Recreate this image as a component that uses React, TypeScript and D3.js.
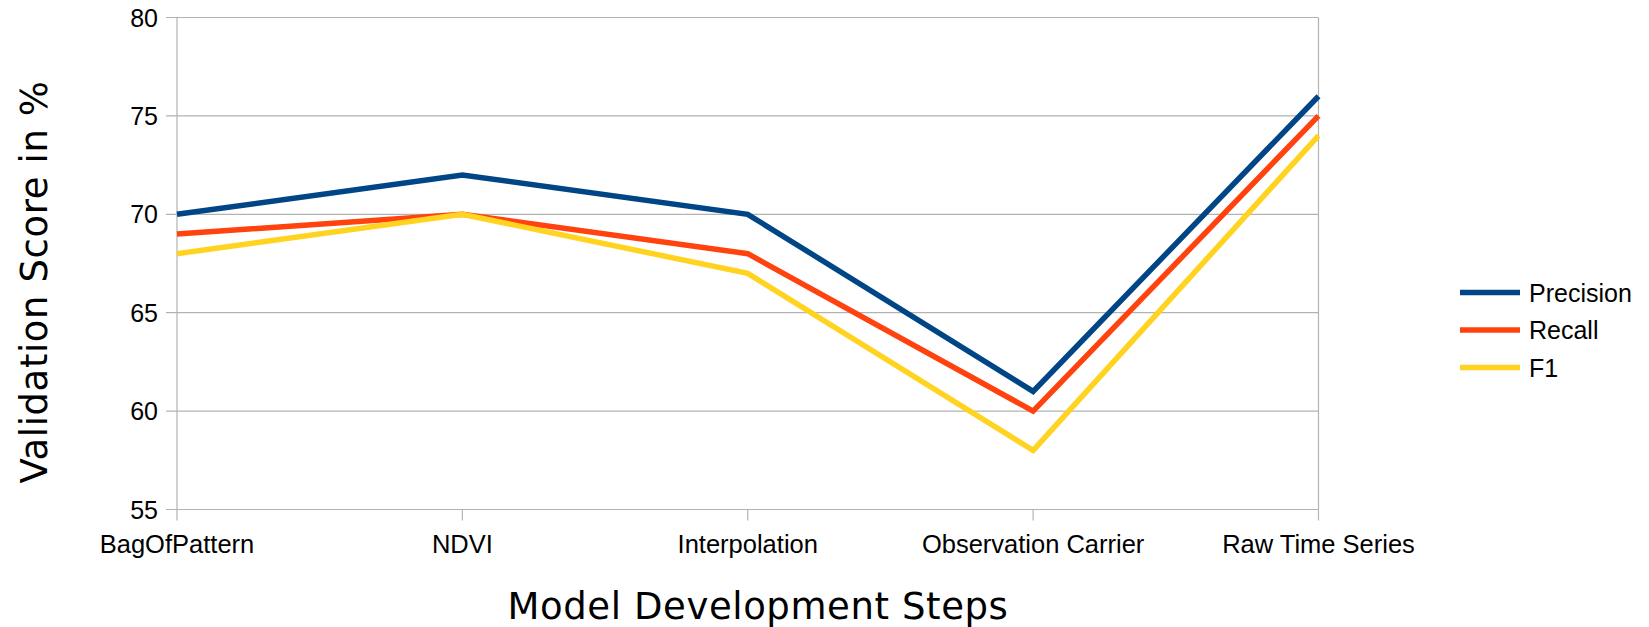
import React, { useEffect, useRef } from "react";
import * as d3 from "d3";

const categories = ["BagOfPattern", "NDVI", "Interpolation", "Observation Carrier", "Raw Time Series"];
const precision = [70, 72, 70, 61, 76];
const recall = [69, 70, 68, 60, 75];
const f1 = [68, 70, 67, 58, 74];
const yTicks = [55, 60, 65, 70, 75, 80];
const seriesNames = ["Precision", "Recall", "F1"];
const seriesColors = ["#004586", "#ff420e", "#ffd320"];

const W = 1649;
const H = 627;
const M = { left: 177, right: 1318.5, top: 17.5, bottom: 509.5 };

export default function App() {
  const ref = useRef<SVGSVGElement | null>(null);

  useEffect(() => {
    const svg = d3.select(ref.current);
    svg.selectAll("*").remove();

    const x = d3.scalePoint<string>().domain(categories).range([M.left, M.right]).padding(0);
    const y = d3.scaleLinear().domain([55, 80]).range([M.bottom, M.top]);

    const grid = "#b3b3b3";
    const tickFont = "'Liberation Sans', Arial, sans-serif";

    // horizontal gridlines + y ticks
    const gy = svg.append("g");
    yTicks.forEach((t) => {
      gy.append("line")
        .attr("x1", M.left - 11).attr("x2", M.right)
        .attr("y1", y(t)).attr("y2", y(t))
        .attr("stroke", grid).attr("stroke-width", 1.2);
      gy.append("text")
        .attr("x", M.left - 19).attr("y", y(t))
        .attr("dy", "0.36em")
        .attr("text-anchor", "end")
        .attr("font-family", tickFont).attr("font-size", 25)
        .attr("fill", "#000")
        .text(String(t));
    });

    // vertical axis lines (left and right)
    svg.append("line").attr("x1", M.left).attr("x2", M.left)
      .attr("y1", M.top).attr("y2", M.bottom)
      .attr("stroke", grid).attr("stroke-width", 1.2);
    svg.append("line").attr("x1", M.right).attr("x2", M.right)
      .attr("y1", M.top).attr("y2", M.bottom)
      .attr("stroke", grid).attr("stroke-width", 1.2);

    // x ticks and labels
    categories.forEach((c) => {
      const cx = x(c) as number;
      svg.append("line").attr("x1", cx).attr("x2", cx)
        .attr("y1", M.bottom).attr("y2", M.bottom + 11)
        .attr("stroke", grid).attr("stroke-width", 1.2);
      svg.append("text")
        .attr("x", cx).attr("y", 553)
        .attr("text-anchor", "middle")
        .attr("font-family", tickFont).attr("font-size", 25.5)
        .attr("fill", "#000")
        .text(c);
    });

    // lines
    const series = [precision, recall, f1];
    const line = d3.line<number>()
      .x((_, i) => x(categories[i]) as number)
      .y((d) => y(d));
    series.forEach((s, i) => {
      svg.append("path")
        .attr("d", line(s) as string)
        .attr("fill", "none")
        .attr("stroke", seriesColors[i])
        .attr("stroke-width", 5.5)
        .attr("stroke-linejoin", "miter");
    });

    // legend
    const legY = [292.5, 330, 367.5];
    seriesNames.forEach((n, i) => {
      svg.append("line")
        .attr("x1", 1460).attr("x2", 1520)
        .attr("y1", legY[i]).attr("y2", legY[i])
        .attr("stroke", seriesColors[i]).attr("stroke-width", 5.5);
      svg.append("text")
        .attr("x", 1529).attr("y", legY[i])
        .attr("dy", "0.36em")
        .attr("font-family", tickFont).attr("font-size", 25)
        .attr("fill", "#000")
        .text(n);
    });

    // axis titles
    const titleFont = "'DejaVu Sans', sans-serif";
    svg.append("text")
      .attr("x", 758).attr("y", 619)
      .attr("text-anchor", "middle")
      .attr("font-family", titleFont).attr("font-size", 37)
      .attr("letter-spacing", 0.6)
      .attr("fill", "#000")
      .text("Model Development Steps");
    svg.append("text")
      .attr("transform", `translate(46.5, 282) rotate(-90)`)
      .attr("text-anchor", "middle")
      .attr("font-family", titleFont).attr("font-size", 37)
      .attr("letter-spacing", 0.6)
      .attr("fill", "#000")
      .text("Validation Score in %");
  }, []);

  return (
    <svg
      ref={ref}
      width={W}
      height={H}
      style={{ position: "absolute", left: 0, top: 0, display: "block", background: "#fff" }}
    />
  );
}
